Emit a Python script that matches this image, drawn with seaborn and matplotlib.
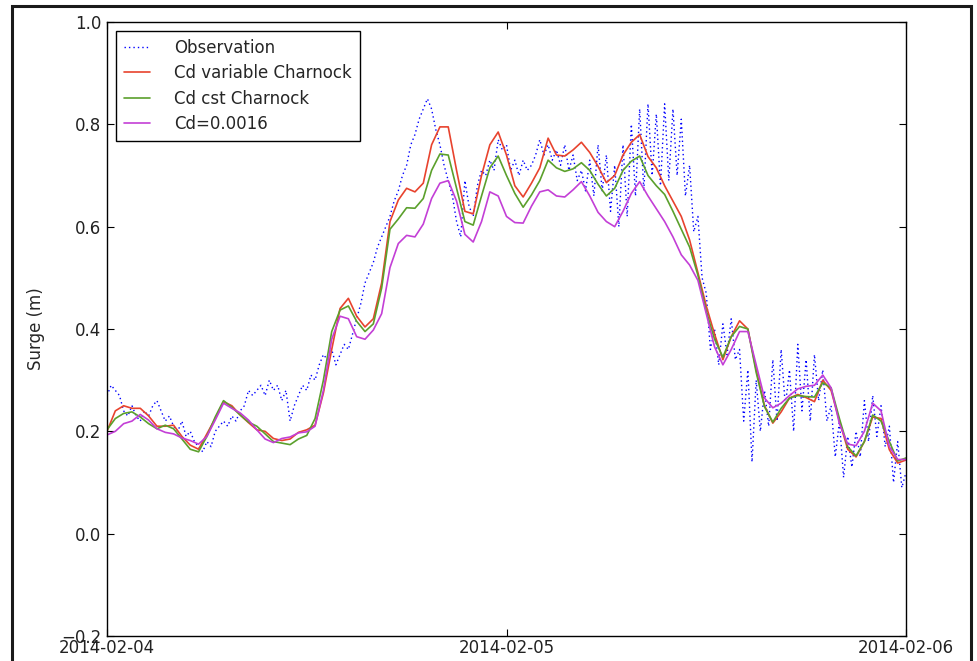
import numpy as np
import pandas as pd
import matplotlib
matplotlib.use("Agg")
import matplotlib.pyplot as plt
import matplotlib.dates as mdates
from matplotlib.patches import Rectangle
import seaborn as sns

# observed surge, every 15 minutes from 2014-02-04 00:00
obs = [
    0.27, 0.29, 0.28, 0.27, 0.24, 0.23, 0.25, 0.23,
    0.22, 0.24, 0.23, 0.25, 0.26, 0.24, 0.22, 0.23,
    0.21, 0.20, 0.22, 0.19, 0.20, 0.18, 0.17, 0.16,
    0.18, 0.17, 0.20, 0.21, 0.22, 0.21, 0.23, 0.22,
    0.24, 0.25, 0.28, 0.27, 0.28, 0.29, 0.27, 0.30,
    0.28, 0.29, 0.26, 0.28, 0.22, 0.25, 0.27, 0.29,
    0.28, 0.31, 0.30, 0.33, 0.35, 0.34, 0.36, 0.33,
    0.35, 0.37, 0.36, 0.39, 0.42, 0.45, 0.49, 0.51,
    0.53, 0.56, 0.58, 0.60, 0.62, 0.65, 0.67, 0.70,
    0.72, 0.76, 0.78, 0.81, 0.83, 0.85, 0.83, 0.79,
    0.76, 0.72, 0.69, 0.66, 0.61, 0.58, 0.69, 0.64,
    0.62, 0.68, 0.71, 0.70, 0.73, 0.71, 0.77, 0.75,
    0.76, 0.71, 0.73, 0.70, 0.73, 0.71, 0.72, 0.74,
    0.77, 0.74, 0.76, 0.73, 0.75, 0.72, 0.76, 0.71,
    0.74, 0.69, 0.71, 0.67, 0.73, 0.66, 0.76, 0.67,
    0.74, 0.63, 0.72, 0.60, 0.76, 0.62, 0.80, 0.66,
    0.83, 0.67, 0.84, 0.70, 0.82, 0.68, 0.84, 0.69,
    0.83, 0.70, 0.81, 0.66, 0.72, 0.59, 0.62, 0.50,
    0.47, 0.36, 0.40, 0.33, 0.41, 0.35, 0.42, 0.34,
    0.36, 0.22, 0.32, 0.14, 0.30, 0.20, 0.28, 0.21,
    0.34, 0.22, 0.36, 0.25, 0.32, 0.20, 0.37, 0.24,
    0.34, 0.22, 0.35, 0.26, 0.32, 0.22, 0.25, 0.15,
    0.22, 0.11, 0.19, 0.13, 0.20, 0.15, 0.26, 0.18,
    0.27, 0.19, 0.25, 0.17, 0.21, 0.10, 0.18, 0.09,
    0.12,
]

# model runs, every 30 minutes
cd_var = [
    0.200, 0.240, 0.250, 0.245, 0.245, 0.230, 0.210, 0.210, 0.212, 0.190,
    0.173, 0.165, 0.195, 0.225, 0.258, 0.250, 0.232, 0.217, 0.203, 0.200,
    0.186, 0.182, 0.185, 0.198, 0.203, 0.212, 0.275, 0.360, 0.440, 0.460,
    0.425, 0.404, 0.420, 0.490, 0.610, 0.652, 0.675, 0.668, 0.685, 0.760,
    0.795, 0.795, 0.710, 0.630, 0.625, 0.700, 0.760, 0.785, 0.740, 0.680,
    0.658, 0.685, 0.715, 0.773, 0.740, 0.738, 0.750, 0.765, 0.745, 0.718,
    0.686, 0.700, 0.740, 0.765, 0.780, 0.737, 0.715, 0.680, 0.650, 0.620,
    0.574, 0.510, 0.445, 0.390, 0.340, 0.385, 0.416, 0.400, 0.320, 0.250,
    0.216, 0.238, 0.265, 0.272, 0.266, 0.258, 0.300, 0.280, 0.220, 0.165,
    0.150, 0.180, 0.228, 0.225, 0.164, 0.138, 0.144,
]
cd_cst = [
    0.203, 0.225, 0.235, 0.238, 0.228, 0.215, 0.205, 0.212, 0.205, 0.185,
    0.165, 0.160, 0.190, 0.228, 0.260, 0.247, 0.232, 0.218, 0.210, 0.195,
    0.180, 0.177, 0.174, 0.185, 0.192, 0.225, 0.300, 0.395, 0.437, 0.445,
    0.415, 0.395, 0.410, 0.480, 0.595, 0.615, 0.637, 0.636, 0.655, 0.710,
    0.742, 0.740, 0.675, 0.610, 0.603, 0.660, 0.715, 0.738, 0.700, 0.665,
    0.638, 0.662, 0.690, 0.730, 0.715, 0.708, 0.713, 0.725, 0.710, 0.683,
    0.660, 0.675, 0.710, 0.728, 0.738, 0.700, 0.680, 0.663, 0.630, 0.595,
    0.560, 0.505, 0.435, 0.380, 0.345, 0.385, 0.405, 0.400, 0.315, 0.248,
    0.218, 0.245, 0.265, 0.270, 0.268, 0.267, 0.295, 0.285, 0.225, 0.170,
    0.152, 0.180, 0.232, 0.220, 0.180, 0.142, 0.148,
]
cd_0016 = [
    0.193, 0.200, 0.215, 0.220, 0.233, 0.222, 0.205, 0.198, 0.195, 0.187,
    0.182, 0.175, 0.190, 0.222, 0.255, 0.245, 0.236, 0.222, 0.203, 0.185,
    0.178, 0.186, 0.189, 0.197, 0.199, 0.210, 0.280, 0.380, 0.425, 0.420,
    0.385, 0.380, 0.398, 0.430, 0.520, 0.567, 0.583, 0.580, 0.605, 0.655,
    0.685, 0.690, 0.650, 0.585, 0.570, 0.610, 0.668, 0.660, 0.620, 0.608,
    0.607, 0.640, 0.668, 0.672, 0.660, 0.658, 0.672, 0.688, 0.660, 0.628,
    0.610, 0.600, 0.630, 0.665, 0.688, 0.660, 0.635, 0.610, 0.580, 0.545,
    0.525, 0.495, 0.430, 0.365, 0.330, 0.360, 0.395, 0.395, 0.330, 0.265,
    0.246, 0.255, 0.270, 0.283, 0.288, 0.290, 0.310, 0.285, 0.215, 0.175,
    0.172, 0.200, 0.255, 0.240, 0.170, 0.145, 0.145,
]

labels = ["Observation", "Cd variable Charnock", "Cd cst Charnock", "Cd=0.0016"]

t_obs = pd.date_range("2014-02-04", periods=len(obs), freq="15min")
t_mod = pd.date_range("2014-02-04", periods=len(cd_var), freq="30min")

sns.set_style("ticks")
plt.rcParams["font.family"] = ["DejaVu Sans"]
plt.rcParams["font.size"] = 12

fig = plt.figure(figsize=(9.78, 6.61), dpi=100)
ax = fig.add_axes([107 / 978, 1 - 636 / 661, 799 / 978, 614 / 661])

sns.lineplot(x=t_obs, y=obs, ax=ax, color="#0000ff", lw=1.0,
             linestyle=(0, (1, 2.2)), label=labels[0], errorbar=None)
sns.lineplot(x=t_mod, y=cd_var, ax=ax, color="#e8432e", lw=1.2,
             label=labels[1], errorbar=None)
sns.lineplot(x=t_mod, y=cd_cst, ax=ax, color="#5ba02c", lw=1.2,
             label=labels[2], errorbar=None)
sns.lineplot(x=t_mod, y=cd_0016, ax=ax, color="#c33fd6", lw=1.2,
             label=labels[3], errorbar=None)

ax.set_xlim(pd.Timestamp("2014-02-04"), pd.Timestamp("2014-02-06"))
ax.set_ylim(-0.2, 1.0)
ax.set_yticks([-0.2, 0.0, 0.2, 0.4, 0.6, 0.8, 1.0])
ax.set_yticklabels(["\u22120.2", "0.0", "0.2", "0.4", "0.6", "0.8", "1.0"])
ax.xaxis.set_major_locator(mdates.DayLocator())
ax.xaxis.set_major_formatter(mdates.DateFormatter("%Y-%m-%d"))
ax.tick_params(direction="in", length=5, width=0.8, top=True, right=True,
               labelsize=12, color="black", labelcolor="#222222", pad=4)
ax.tick_params(axis="x", pad=2)
ax.set_xlabel("")
ax.set_ylabel("Surge (m)", fontsize=12, labelpad=12)
for s in ax.spines.values():
    s.set_visible(True)
    s.set_color("black")
    s.set_linewidth(1.0)

leg = ax.legend(loc="upper left", fontsize=12, frameon=True, fancybox=False,
                edgecolor="black", framealpha=1, handlelength=1.6,
                handletextpad=1.45, labelspacing=0.45, borderpad=0.45,
                borderaxespad=0.55)
leg.get_frame().set_linewidth(1.0)

# outer frame around the figure
fig.patches.append(Rectangle((12 / 978, -0.2), 959 / 978, 1.2 - 6 / 661,
                             transform=fig.transFigure, fill=False,
                             edgecolor="#1a1a1a", lw=2.2, clip_on=False))

fig.savefig("out.png", dpi=100)
